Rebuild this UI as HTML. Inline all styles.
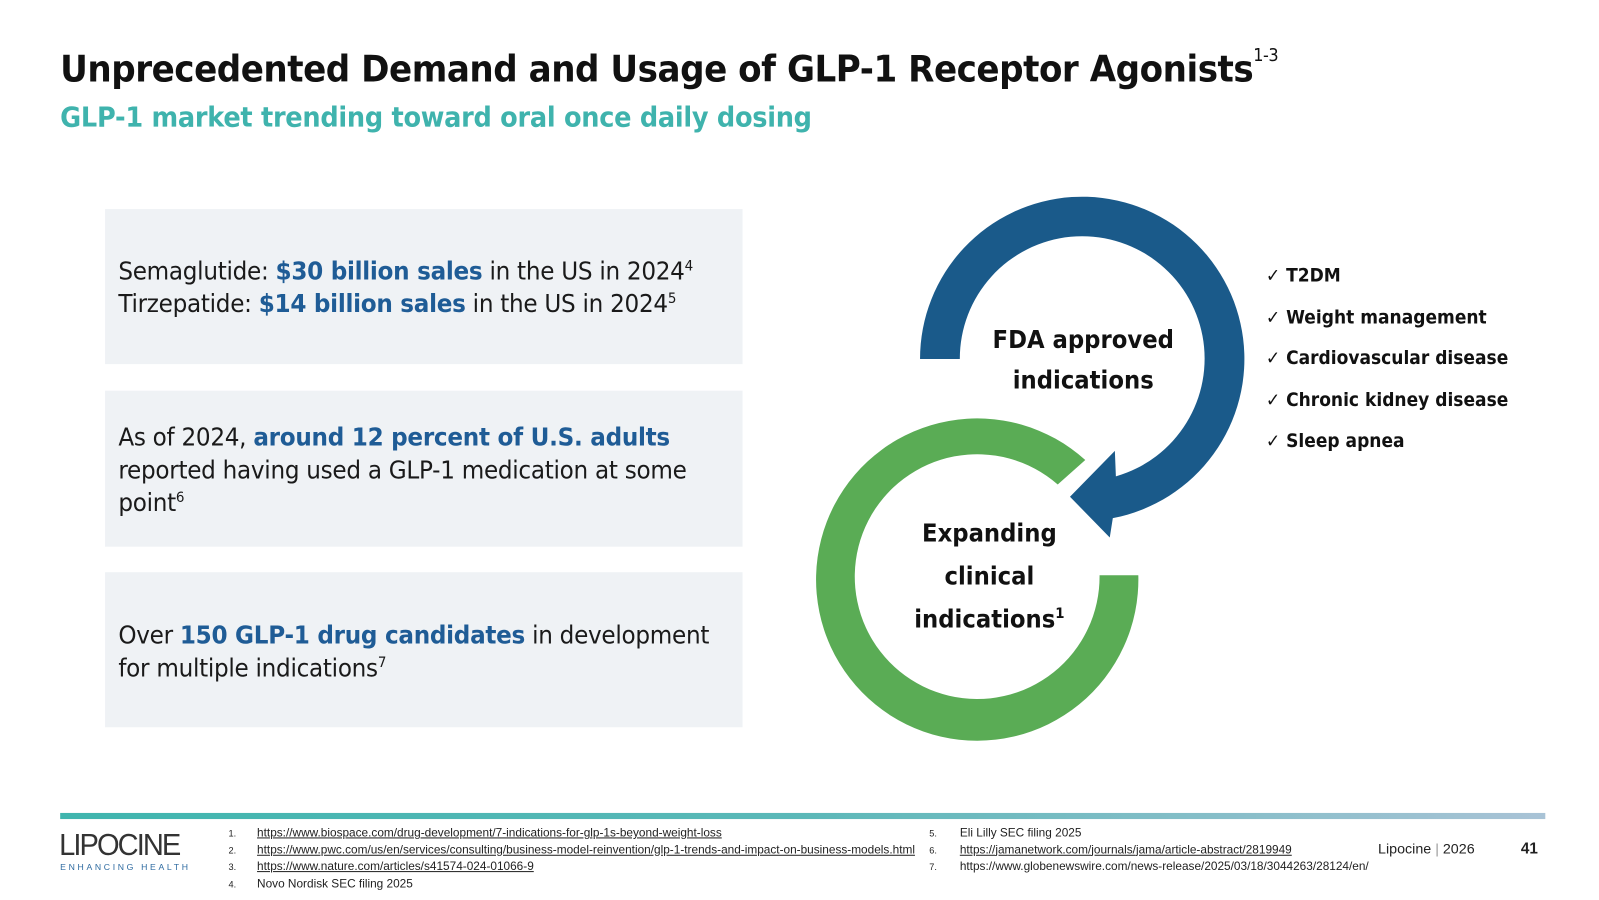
<!DOCTYPE html>
<html><head><meta charset="utf-8">
<style>
body{margin:0;width:1599px;height:899px;background:#fff;position:relative;overflow:hidden;font-family:"DejaVu Sans","Liberation Sans",sans-serif;}
#wrap{position:absolute;left:0;top:0;width:1568px;height:882px;transform:scale(1.02);transform-origin:0 0;}
.abs{position:absolute;white-space:nowrap;}
.sx{transform:scaleX(0.93);transform-origin:0 0;}
.box{position:absolute;left:103px;width:625px;background:#eff2f5;}
.bt{position:absolute;left:13px;font-size:24px;line-height:32px;color:#1a1a1a;letter-spacing:-0.3px;white-space:nowrap;transform:scaleX(0.945);transform-origin:0 0;}
.hl{color:#1f5c96;font-weight:bold;}
sup{font-size:14px;vertical-align:9px;line-height:0;}
.ind{font-size:19px;font-weight:bold;color:#111;}
.fn{font-size:11.6px;color:#222;font-family:"Liberation Sans",sans-serif;}
.fn u{text-decoration:underline;}
.num{position:absolute;font-size:9px;}
</style></head><body>
<div id="wrap">
<div class="abs sx" style="left:59px;top:48px;font-size:36px;font-weight:bold;color:#111;letter-spacing:-0.5px;transform:scaleX(0.93);">Unprecedented Demand and Usage of GLP-1 Receptor Agonists<sup style="font-size:17px;font-weight:normal;vertical-align:20px;">1-3</sup></div>
<div class="abs sx" style="left:59px;top:100px;font-size:27px;font-weight:bold;color:#3fb3ad;letter-spacing:-0.3px;transform:scaleX(0.93);">GLP-1 market trending toward oral once daily dosing</div>

<div class="box" style="top:205px;height:152px;">
<div class="bt" style="top:45px;">Semaglutide: <span class="hl">$30 billion sales</span> in the US in 2024<sup>4</sup><br>Tirzepatide: <span class="hl">$14 billion sales</span> in the US in 2024<sup>5</sup></div></div>
<div class="box" style="top:383px;height:153px;">
<div class="bt" style="top:30px;">As of 2024, <span class="hl">around 12 percent of U.S. adults</span><br>reported having used a GLP-1 medication at some<br>point<sup>6</sup></div></div>
<div class="box" style="top:561px;height:152px;">
<div class="bt" style="top:46px;">Over <span class="hl">150 GLP-1 drug candidates</span> in development<br>for multiple indications<sup>7</sup></div></div>

<svg class="abs" style="left:0;top:0" width="1568" height="882">
<path fill="#5aac55" d="M1116 564 A158 158 0 1 1 1064 451 L1037 475 A120 120 0 1 0 1078 564 Z"/>
<path fill="#1a5a8a" d="M902 352 A159 159 0 1 1 1091 508 L1088 527 L1049 487 L1093 442 L1094 467 A120 120 0 1 0 941 352 Z"/>
</svg>
<div class="abs ind" style="left:962px;top:313px;width:200px;text-align:center;font-size:24px;line-height:40px;transform:scaleX(0.93);">FDA approved<br>indications</div>
<div class="abs ind" style="left:870px;top:502px;width:200px;text-align:center;font-size:24px;line-height:42px;transform:scaleX(0.93);">Expanding<br>clinical<br>indications<sup>1</sup></div>

<div class="abs sx" style="left:1241px;top:251px;font-size:18px;font-weight:bold;line-height:40.5px;color:#111;">
<div><span style="font-weight:normal">✓</span> T2DM</div>
<div><span style="font-weight:normal">✓</span> Weight management</div>
<div><span style="font-weight:normal">✓</span> Cardiovascular disease</div>
<div><span style="font-weight:normal">✓</span> Chronic kidney disease</div>
<div><span style="font-weight:normal">✓</span> Sleep apnea</div>
</div>

<div class="abs" style="left:59px;top:797px;width:1456px;height:6px;background:linear-gradient(90deg,#3fb5ae,#5bb8b8 50%,#a9c3d6);"></div>
<div class="abs" style="left:58px;top:812px;font-family:'Liberation Sans',sans-serif;font-size:30px;color:#333;letter-spacing:-2px;transform:scaleX(0.95);transform-origin:left;">LIPOCINE</div>
<div class="abs" style="left:59px;top:845px;font-family:'Liberation Sans',sans-serif;font-size:8.5px;color:#2d6aa0;letter-spacing:2.6px;">ENHANCING HEALTH</div>

<div class="abs fn" style="left:224px;top:809px;line-height:16.5px;">
<div><span class="num">1.</span><u style="margin-left:28px">https://www.biospace.com/drug-development/7-indications-for-glp-1s-beyond-weight-loss</u></div>
<div><span class="num">2.</span><u style="margin-left:28px">https://www.pwc.com/us/en/services/consulting/business-model-reinvention/glp-1-trends-and-impact-on-business-models.html</u></div>
<div><span class="num">3.</span><u style="margin-left:28px">https://www.nature.com/articles/s41574-024-01066-9</u></div>
<div><span class="num">4.</span><span style="margin-left:28px">Novo Nordisk SEC filing 2025</span></div>
</div>
<div class="abs fn" style="left:911px;top:809px;line-height:16.5px;">
<div><span class="num">5.</span><span style="margin-left:30px">Eli Lilly SEC filing 2025</span></div>
<div><span class="num">6.</span><u style="margin-left:30px">https://jamanetwork.com/journals/jama/article-abstract/2819949</u></div>
<div><span class="num">7.</span><span style="margin-left:30px">https://www.globenewswire.com/news-release/2025/03/18/3044263/28124/en/</span></div>
</div>
<div class="abs" style="left:1351px;top:824px;font-size:14px;color:#222;font-family:'Liberation Sans',sans-serif;">Lipocine <span style="color:#999">|</span> 2026</div>
<div class="abs" style="left:1491px;top:824px;font-size:15px;font-weight:bold;color:#222;font-family:'Liberation Sans',sans-serif;">41</div>
</div>
</body></html>
